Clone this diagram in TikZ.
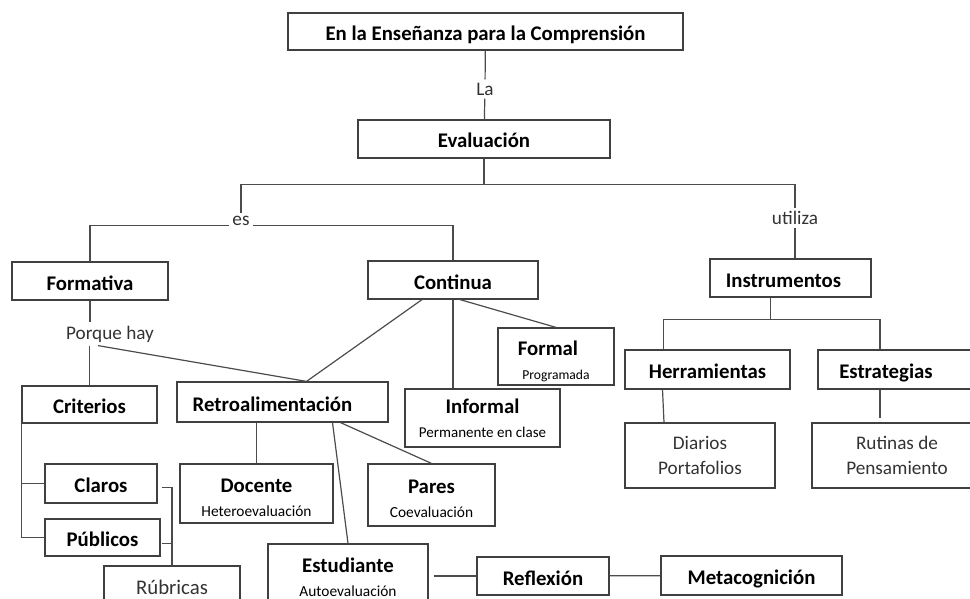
\documentclass[tikz,border=0pt]{standalone}
\usepackage{fontspec}
\setmainfont{Carlito}
\usepackage{tikz}
\usetikzlibrary{calc}

\tikzset{
  base/.style={draw=black!75, line width=0.6pt, inner sep=0pt},
  box/.style={base, font=\bfseries\fontsize{10.4}{12}\selectfont, text height=9pt, text depth=0pt},
  tbox/.style={base, font=\bfseries\fontsize{10.4}{12}\selectfont, align=center},
  softbox/.style={base, text=black!80, font=\fontsize{9.6}{12.5}\selectfont, align=center},
  wh/.style 2 args={minimum width=#1*0.5pt, minimum height=#2*0.5pt},
  lbl/.style={inner sep=1.5pt, text=black!80, font=\fontsize{9.6}{11}\selectfont},
  conn/.style={draw=black!70, line width=0.6pt}
}
\newcommand{\smalltxt}[1]{{\normalfont\fontsize{7.7}{9}\selectfont #1}}

\begin{document}
\begin{tikzpicture}[x=0.5pt, y=-0.5pt]
                \useasboundingbox (0,0) rectangle (970,599);
                \clip (0,0) rectangle (970,599);
                % top of the map
                \node [box, wh={395}{37}] (top) at (485.5,31.5) {En la Enseñanza para la Comprensión};
                \node [lbl] (la) at (485,89) {La};
                \node [box, wh={252}{38}] (eval) at (484,139) {Evaluación};
                \draw [conn] (top) -- (la);
                \draw [conn] (la) -- (eval);
                \node [lbl] (es) at (241,221) {es};
                \node [lbl] (util) at (795,218) {utiliza};
                \draw [conn] (eval.south) -- ++(0,26) coordinate (split);
                \draw [conn] (split) -| (es.north);
                \draw [conn] (split) -| (util.north);
                \node [box, wh={156}{38}] (form) at (90,281) {Formativa};
                \node [box, wh={170}{38}] (cont) at (453,280) {Continua};
                \node [box, wh={161}{38}] (instr) at (790.5,278) {\kern-7pt Instrumentos};
                \draw [conn] (es.base west) -| (form.north);
                \draw [conn] (es.base east) -| (cont.north);
                \draw [conn] (util.south) -- (util.south |- instr.north);
                % formativa
                \node [lbl] (porq) at (110,334) {Porque hay};
                \node [box, wh={135}{37}] (crit) at (89.5,404.5) {Criterios};
                \node [box, wh={211}{40}] (retro) at (282.5,402) {\kern-10pt Retroalimentación};
                \draw [conn] (form.south) -- (form.south |- porq.north);
                \draw [conn] (crit.north) -- (crit.north |- porq.south);
                \draw [conn] ($(porq.south)+(-12,0)$) -- ($(retro.north)+(24,0)$);
                \draw [conn] ($(cont.south)+(-31,0)$) -- ($(retro.north)+(24,0)$);
                % continua
                \node [tbox, wh={116}{57}] (formal) at (556,356.5)
                {\rule{0pt}{12pt}\hspace*{-8pt}Formal\\ {\normalfont\fontsize{6.8}{8}\selectfont Programada}};
                \node [tbox, wh={155}{58}] (inform) at (482.5,418)
                {Informal\\ {\normalfont\fontsize{7.5}{9}\selectfont Permanente en clase}};
                \draw [conn] (cont.south) -- (cont.south |- inform.north);
                \draw [conn] ($(cont.south)+(7,0)$) -- (formal.north);
                % retroalimentacion
                \node [tbox, wh={153}{59}] (doc) at (256.5,493.5) {\rule{0pt}{11pt}Docente\\ \smalltxt{Heteroevaluación}};
                \node [tbox, wh={127}{62}] (pares) at (431.5,495) {\rule{0pt}{11pt}Pares\\ \smalltxt{Coevaluación}};
                \node [tbox, wh={160}{66}] (est) at (348,577) {Estudiante\\ \smalltxt{Autoevaluación}};
                \draw [conn] (doc.north) -- (doc.north |- retro.south);
                \draw [conn] ($(retro.south)+(58,0)$) -- (pares.north);
                \draw [conn] ($(retro.south)+(50,0)$) -- (est.north);
                \node [box, wh={132}{38}] (refl) at (543,576) {Reflexión};
                \node [box, wh={181}{39}] (meta) at (751.5,575.5) {Metacognición};
                \draw [conn] ($(est.east |- refl.west)+(5,0)$) -- (refl.west);
                \draw [conn] (refl) -- (meta);
                % criterios
                \node [box, wh={112}{39}] (claros) at (101,483.5) {Claros};
                \node [box, wh={115}{37}] (publ) at (102.5,537.5) {Públicos};
                \node [softbox, wh={136}{42}, font=\fontsize{10.4}{12}\selectfont] (rubr) at (172,587) {Rúbricas};
                \draw [conn] (crit.south west) |- (claros.west);
                \draw [conn] (crit.south west) |- (publ.west);
                \draw [conn] ($(claros.east)+(4,4)$) -| (rubr.north);
                \draw [conn] ($(publ.east)+(1,6)$) -- ($(publ.east -| rubr.north)+(0,6)$);
                % instrumentos
                \node [box, wh={165}{39}] (herr) at (707.5,369.5) {Herramientas};
                \node [box, wh={162}{39}] (estr) at (899,369.5) {\kern-13pt Estrategias};
                \node [softbox, wh={150}{65}] (diar) at (700,455.5) {Diarios\\Portafolios};
                \node [softbox, wh={170}{65}] (rut) at (897,455.5) {Rutinas de\\Pensamiento};
                \draw [conn] ($(instr.south)+(-20,0)$) -- ++(0,22) coordinate (isplit);
                \draw [conn] (isplit) -| ($(herr.north)+(-44,0)$);
                \draw [conn] (isplit) -| ($(estr.north)+(-19,0)$);
                \draw [conn] ($(herr.south)+(-45,0)$) -- ($(diar.north)+(-36,0)$);
                \draw [conn] ($(estr.south)+(-19,0)$) -- ($(rut.north)+(-17,-4)$);
            \end{tikzpicture}
\end{document}
